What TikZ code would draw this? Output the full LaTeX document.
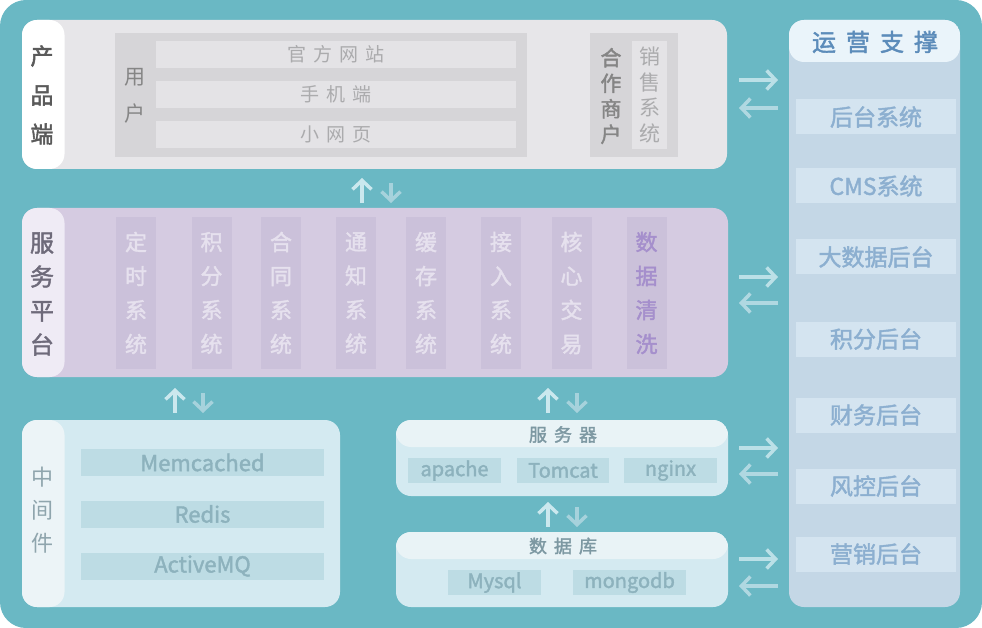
\documentclass[tikz,border=0pt]{standalone}
\usepackage{fontspec}
\setmainfont{Noto Sans CJK SC}
\newfontfamily\medfont[FakeBold=1.8]{Noto Sans CJK SC}
\usetikzlibrary{arrows.meta}
\definecolor{bgteal}{HTML}{6AB8C4}
\definecolor{prodbg}{HTML}{E7E6E9}
\definecolor{userblk}{HTML}{D6D5D8}
\definecolor{userrow}{HTML}{E4E3E6}
\definecolor{darkgrey}{HTML}{5A5A5A}
\definecolor{midgrey}{HTML}{858585}
\definecolor{lightgrey}{HTML}{ABABAD}
\definecolor{svcbg}{HTML}{D5CBE1}
\definecolor{svclab}{HTML}{EFEBF5}
\definecolor{svccol}{HTML}{CBC1DA}
\definecolor{svctext}{HTML}{E6E1EE}
\definecolor{svcpurple}{HTML}{A58FCC}
\definecolor{svclabtext}{HTML}{6E6A7A}
\definecolor{midbg}{HTML}{D4EAF1}
\definecolor{midlab}{HTML}{ECF4F7}
\definecolor{miditem}{HTML}{BDDCE4}
\definecolor{miditemtext}{HTML}{8DB2BD}
\definecolor{midlabtext}{HTML}{8FA5AD}
\definecolor{srvhead}{HTML}{E9F3F6}
\definecolor{srvtext}{HTML}{7D98A2}
\definecolor{opsbg}{HTML}{C4D7E6}
\definecolor{opshead}{HTML}{EAF4FA}
\definecolor{opsitem}{HTML}{D4E4F0}
\definecolor{opsitemtext}{HTML}{8CAFD0}
\definecolor{opsheadtext}{HTML}{5C8CBA}
\definecolor{arrowR}{HTML}{BBE0E7}
\definecolor{arrowL}{HTML}{B0D8E1}
\definecolor{arrowU}{HTML}{CBE8EE}
\definecolor{arrowD}{HTML}{A6D2DC}
\newcommand{\hsp}{\hspace{7pt}}
\begin{document}
\begin{tikzpicture}[x=1pt,y=-1pt,
  panel/.style={rounded corners=15pt, inner sep=0pt, minimum width=#1},
  labcol/.style={path picture={\fill[#1] (path picture bounding box.north west) rectangle ([xshift=42.5pt]path picture bounding box.south west);}},
  headband/.style 2 args={path picture={\fill[#1] (path picture bounding box.north west) rectangle ([yshift=-#2]path picture bounding box.north east);}},
  plainbox/.style={inner sep=0pt, draw=none},
  txt/.style={inner sep=0pt, align=center},
  harrowR/.style={draw=arrowR, line width=3.5pt, -{Straight Barb[length=9pt,width=19pt]}},
  harrowL/.style={draw=arrowL, line width=3.5pt, -{Straight Barb[length=9pt,width=19pt]}},
  varrowU/.style={draw=arrowU, line width=3.5pt, -{Straight Barb[length=9pt,width=19pt]}},
  varrowD/.style={draw=arrowD, line width=3.5pt, -{Straight Barb[length=9pt,width=19pt]}},
  rowbox/.style={plainbox, fill=userrow, minimum width=360pt, minimum height=27pt, text=lightgrey, font=\fontsize{19}{20}\selectfont},
  svccolbox/.style={plainbox, fill=svccol, minimum width=40pt, minimum height=152pt, text=svctext, font=\medfont\fontsize{22}{34}\selectfont, align=center},
  miditembox/.style={plainbox, fill=miditem, minimum width=243pt, minimum height=27pt, text=miditemtext, font=\medfont\fontsize{22}{24}\selectfont},
  srvitem/.style={plainbox, fill=miditem, minimum height=25pt, text=miditemtext, font=\medfont\fontsize{20}{22}\selectfont},
  opsitembox/.style={plainbox, fill=opsitem, minimum width=160pt, minimum height=35pt, text=opsitemtext, font=\medfont\fontsize{23}{24}\selectfont}
]
\useasboundingbox (0,0) rectangle (982,628);
\fill[bgteal, rounded corners=26pt] (0,0) rectangle (982,628);

% ---------- product layer ----------
\node[panel=705pt, minimum height=149pt, fill=prodbg, labcol=white] (prod) at (374.5,94.5) {};
\node[txt, text=darkgrey, font=\medfont\fontsize{23}{39}\selectfont] (prodlab) at (42,95) {产\\品\\端};
\node[plainbox, fill=userblk, minimum width=412pt, minimum height=124pt] (userblk) at (321,95) {};
\node[txt, text=midgrey, font=\fontsize{21}{37}\selectfont] (userlab) at (135,96) {用\\户};
\node[rowbox] (web) at (336,54.5) {官\hsp 方\hsp 网\hsp 站};
\node[rowbox] (mobile) at (336,94.5) {手\hsp 机\hsp 端};
\node[rowbox] (mini) at (336,134.5) {小\hsp 网\hsp 页};
\node[plainbox, fill=userblk, minimum width=88pt, minimum height=124pt] (partner) at (634,95) {};
\node[txt, text=midgrey, font=\medfont\fontsize{21}{25.5}\selectfont] (partnerlab) at (611,96) {合\\作\\商\\户};
\node[plainbox, fill=userrow, minimum width=35pt, minimum height=108pt, text=lightgrey, font=\fontsize{21}{25.5}\selectfont, align=center] (sales) at (649.5,95) {销\\售\\系\\统};

% ---------- operations column ----------
\node[panel=171pt, minimum height=587pt, fill=opsbg, headband={opshead}{42pt}] (ops) at (874.5,313.5) {};
\node[txt, text=opsheadtext, font=\medfont\fontsize{24}{26}\selectfont] (opslab) at (875,42) {运\hspace{10pt}营\hspace{10pt}支\hspace{10pt}撑};
\node[opsitembox] (o1) at (876,117) {后台系统};
\node[opsitembox] (o2) at (876,186) {CMS系统};
\node[opsitembox] (o3) at (876,257) {大数据后台};
\node[opsitembox] (o4) at (876,339) {积分后台};
\node[opsitembox] (o5) at (876,415) {财务后台};
\node[opsitembox] (o6) at (876,486) {风控后台};
\node[opsitembox] (o7) at (876,554) {营销后台};

% ---------- service platform ----------
\node[panel=706pt, minimum height=169pt, fill=svcbg, labcol=svclab] (svc) at (375,292.5) {};
\node[txt, text=svclabtext, font=\medfont\fontsize{24}{34}\selectfont] (svclab) at (42,294) {服\\务\\平\\台};
\node[svccolbox] (s1) at (136,293) {定\\时\\系\\统};
\node[svccolbox] (s2) at (211.5,293) {积\\分\\系\\统};
\node[svccolbox] (s3) at (281,293) {合\\同\\系\\统};
\node[svccolbox] (s4) at (356,293) {通\\知\\系\\统};
\node[svccolbox] (s5) at (426,293) {缓\\存\\系\\统};
\node[svccolbox] (s6) at (501,293) {接\\入\\系\\统};
\node[svccolbox] (s7) at (571.5,293) {核\\心\\交\\易};
\node[svccolbox, text=svcpurple] (s8) at (646.5,293) {数\\据\\清\\洗};

% ---------- middleware ----------
\node[panel=318pt, minimum height=187pt, fill=midbg, labcol=midlab] (mid) at (181,513.5) {};
\node[txt, text=midlabtext, font=\fontsize{22}{33}\selectfont] (midlab) at (42,510) {中\\间\\件};
\node[miditembox] (m1) at (202.5,462.5) {Memcached};
\node[miditembox] (m2) at (202.5,514) {Redis};
\node[miditembox] (m3) at (202.5,566) {ActiveMQ};

% ---------- server ----------
\node[panel=332pt, minimum height=76pt, fill=midbg, headband={srvhead}{27pt}] (srv) at (562,458) {};
\node[txt, text=srvtext, font=\medfont\fontsize{18}{20}\selectfont] (srvlab) at (563,434.5) {服\hspace{7pt}务\hspace{7pt}器};
\node[srvitem, minimum width=93pt] (apache) at (454.5,470.5) {apache};
\node[srvitem, minimum width=92pt] (tomcat) at (563,470.5) {Tomcat};
\node[srvitem, minimum width=93pt] (nginx) at (670.5,470.5) {nginx};

% ---------- database ----------
\node[panel=332pt, minimum height=75pt, fill=midbg, headband={srvhead}{27pt}] (db) at (562,569.5) {};
\node[txt, text=srvtext, font=\medfont\fontsize{18}{20}\selectfont] (dblab) at (563,546) {数\hspace{7pt}据\hspace{7pt}库};
\node[srvitem, minimum width=93pt] (mysql) at (494.5,582.5) {Mysql};
\node[srvitem, minimum width=113pt] (mongo) at (629.5,582.5) {mongodb};

% ---------- horizontal arrows ----------
\coordinate (hL1) at (739,80);  \coordinate (hR1) at (778,80);
\coordinate (hL2) at (739,108); \coordinate (hR2) at (778,108);
\coordinate (hL3) at (739,277); \coordinate (hR3) at (778,277);
\coordinate (hL4) at (739,303); \coordinate (hR4) at (778,303);
\coordinate (hL5) at (739,448); \coordinate (hR5) at (778,448);
\coordinate (hL6) at (739,474); \coordinate (hR6) at (778,474);
\coordinate (hL7) at (739,559); \coordinate (hR7) at (778,559);
\coordinate (hL8) at (739,586); \coordinate (hR8) at (778,586);
\draw[harrowR] (hL1) -- (hR1);
\draw[harrowL] (hR2) -- (hL2);
\draw[harrowR] (hL3) -- (hR3);
\draw[harrowL] (hR4) -- (hL4);
\draw[harrowR] (hL5) -- (hR5);
\draw[harrowL] (hR6) -- (hL6);
\draw[harrowR] (hL7) -- (hR7);
\draw[harrowL] (hR8) -- (hL8);

% ---------- vertical arrows ----------
\coordinate (vU1b) at (362,203); \coordinate (vU1t) at (362,178);
\coordinate (vD1t) at (391,183); \coordinate (vD1b) at (391,203);
\coordinate (vU2b) at (175,413); \coordinate (vU2t) at (175,388);
\coordinate (vD2t) at (203,393); \coordinate (vD2b) at (203,413);
\coordinate (vU3b) at (548,413); \coordinate (vU3t) at (548,388);
\coordinate (vD3t) at (577,393); \coordinate (vD3b) at (577,413);
\coordinate (vU4b) at (548,527); \coordinate (vU4t) at (548,502);
\coordinate (vD4t) at (577,507); \coordinate (vD4b) at (577,527);
\draw[varrowU] (vU1b) -- (vU1t);
\draw[varrowD] (vD1t) -- (vD1b);
\draw[varrowU] (vU2b) -- (vU2t);
\draw[varrowD] (vD2t) -- (vD2b);
\draw[varrowU] (vU3b) -- (vU3t);
\draw[varrowD] (vD3t) -- (vD3b);
\draw[varrowU] (vU4b) -- (vU4t);
\draw[varrowD] (vD4t) -- (vD4b);
\end{tikzpicture}
\end{document}
